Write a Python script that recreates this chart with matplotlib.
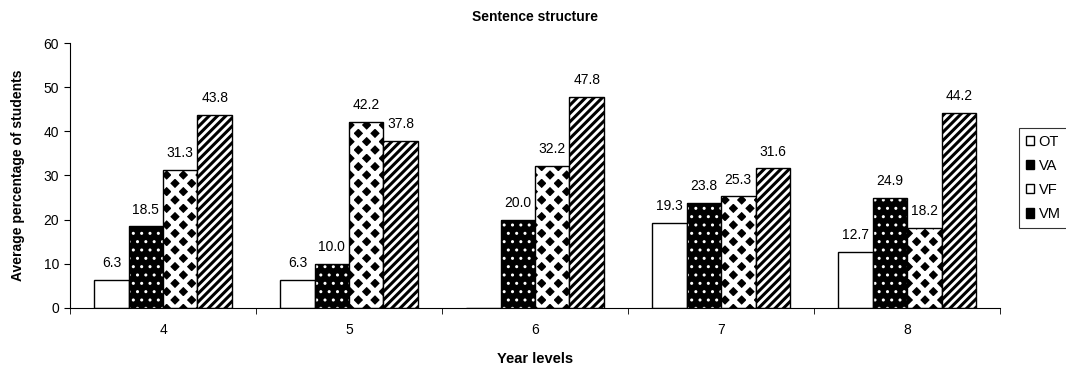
import numpy as np
import matplotlib.pyplot as plt
from matplotlib.patches import Patch

plt.rcParams['font.family'] = ['Liberation Sans', 'DejaVu Sans']

years = ['4', '5', '6', '7', '8']
series = ['OT', 'VA', 'VF', 'VM']
ot = [6.3, 6.3, 0.0, 19.3, 12.7]
va = [18.5, 10.0, 20.0, 23.8, 24.9]
vf = [31.3, 42.2, 32.2, 25.3, 18.2]
vm = [43.8, 37.8, 47.8, 31.6, 44.2]
values = [ot, va, vf, vm]

# face, hatch, hatch colour, hatch linewidth
styles = [
    ('white', None, 'black', 1.0),
    ('black', '..', 'white', 1.0),
    ('black', 'xx', 'white', 3.6),
    ('white', '////', 'black', 2.2),
]
legend_faces = ['white', 'black', 'white', 'black']

fig = plt.figure(figsize=(10.66, 3.71), dpi=100)
ax = fig.add_axes([0.0657, 0.170, 0.8725, 0.714])

x = np.arange(len(years))
w = 0.185

def hatched_bar(xpos, h, face, hatch, hcol, hlw):
    with plt.rc_context({'hatch.linewidth': hlw}):
        bars = ax.bar(xpos, h, w, color=face, edgecolor=hcol, hatch=hatch, linewidth=0)
        for b in bars:
            if hasattr(b, 'set_hatch_linewidth'):
                b.set_hatch_linewidth(hlw)
    # black outline on top of the pattern
    ax.bar(xpos, h, w, fill=False, edgecolor='black', linewidth=1.0)

for i, (vals, st) in enumerate(zip(values, styles)):
    xpos = x + (i - 1.5) * w
    hatched_bar(xpos, vals, *st)
    for xp, v in zip(xpos, vals):
        if v > 0:
            ax.annotate(f'{v:.1f}', (xp, v), xytext=(0, 7), textcoords='offset points',
                        ha='center', va='bottom', fontsize=10)

ax.set_xlim(-0.5, len(years) - 0.5)
ax.set_ylim(0, 60)
ax.set_yticks(range(0, 61, 10))
ax.set_xticks(x)
ax.set_xticklabels(years)
ax.set_xticks(np.arange(-0.5, len(years)), minor=True)
ax.tick_params(axis='x', which='major', length=0, labelsize=10, pad=11)
ax.tick_params(axis='x', which='minor', length=4, direction='out')
ax.tick_params(axis='y', length=4, direction='out', labelsize=10, pad=4)
ax.spines['top'].set_visible(False)
ax.spines['right'].set_visible(False)

ax.set_title('Sentence structure', fontsize=10, fontweight='bold', pad=16)
ax.set_xlabel('Year levels', fontsize=10.5, fontweight='bold', va='top')
ax.xaxis.set_label_coords(0.5, -0.165)
ax.set_ylabel('Average percentage of students', fontsize=10, fontweight='bold')
ax.yaxis.set_label_coords(-0.048, 0.5)

handles = [Patch(facecolor=f, edgecolor='black', label=n) for f, n in zip(legend_faces, series)]
leg = fig.legend(handles=handles, loc='upper left', bbox_to_anchor=(1019 / 1066, 1 - 128 / 371),
                 fontsize=10.5, frameon=True, fancybox=False, handlelength=0.6, handleheight=0.6,
                 handletextpad=0.3, borderpad=0.45, labelspacing=0.7, borderaxespad=0)
leg.get_frame().set_edgecolor('black')
leg.get_frame().set_linewidth(0.8)

fig.savefig('out.png', dpi=100)
